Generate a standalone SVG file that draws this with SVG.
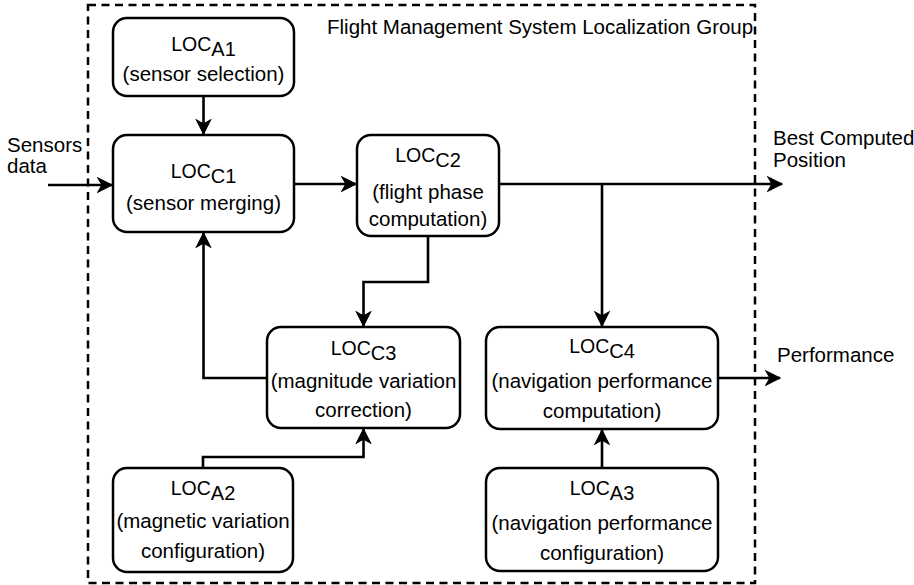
<svg xmlns="http://www.w3.org/2000/svg" width="914" height="585" viewBox="0 0 914 585">
  <style>
    .box { fill: #ffffff; stroke: #000000; stroke-width: 2.5; }
    .group { fill: none; stroke: #000000; stroke-width: 2.5; stroke-dasharray: 8 5.5; }
    .wire { fill: none; stroke: #000000; stroke-width: 2.6; }
    .arrow { marker-end: url(#head); }
    text { font-family: "Liberation Sans", Arial, Helvetica, sans-serif; font-size: 20.5px; fill: #000000; }
    .c { text-anchor: middle; }
    .loc { font-size: 19.5px; }
    .sub { font-size: 20px; }
  </style>
  <defs>
    <marker id="head" markerUnits="userSpaceOnUse" markerWidth="17" markerHeight="17" viewBox="-15 -8.5 17 17" refX="0" refY="0" orient="auto">
      <path d="M-14,-7 L0,0 L-14,7 L-10,0 Z" fill="#000000" stroke="#000000" stroke-width="1.2"/>
    </marker>
  </defs>

  <!-- group boundary -->
  <g id="fms-group">
    <rect class="group" x="88" y="5" width="667" height="578"/>
    <text x="327" y="34">Flight Management System Localization Group</text>
  </g>

  <!-- connectors -->
  <g id="connectors">
    <path class="wire arrow" d="M48,185 L112,185"/>
    <path class="wire arrow" d="M203.5,96 L203.5,134"/>
    <path class="wire arrow" d="M294,184 L356,184"/>
    <path class="wire arrow" d="M499,184 L782,184"/>
    <path class="wire arrow" d="M602,184 L602,326"/>
    <path class="wire arrow" d="M428,236 L428,282 L363.5,282 L363.5,326"/>
    <path class="wire arrow" d="M267,378 L203.5,378 L203.5,233"/>
    <path class="wire arrow" d="M203,468 L203,457 L363.5,457 L363.5,429"/>
    <path class="wire arrow" d="M602,468 L602,430"/>
    <path class="wire arrow" d="M718,378 L780,378"/>
  </g>

  <!-- external labels -->
  <g id="label-sensors">
    <text x="7" y="152">Sensors</text>
    <text x="7" y="173">data</text>
  </g>
  <g id="label-position">
    <text x="773" y="145">Best Computed</text>
    <text x="773" y="167">Position</text>
  </g>
  <g id="label-performance">
    <text x="777" y="362">Performance</text>
  </g>

  <!-- nodes -->
  <g id="loc-a1">
    <rect class="box" x="113" y="18" width="181" height="78" rx="14" ry="14"/>
    <text class="c" x="203.5" y="51"><tspan class="loc">LOC</tspan><tspan class="sub" dy="5">A1</tspan></text>
    <text class="c" x="203.5" y="81">(sensor selection)</text>
  </g>

  <g id="loc-c1">
    <rect class="box" x="113" y="135" width="181" height="97" rx="14" ry="14"/>
    <text class="c" x="203.5" y="178"><tspan class="loc">LOC</tspan><tspan class="sub" dy="5">C1</tspan></text>
    <text class="c" x="203.5" y="210">(sensor merging)</text>
  </g>

  <g id="loc-c2">
    <rect class="box" x="357" y="135" width="142" height="101" rx="14" ry="14"/>
    <text class="c" x="428" y="162"><tspan class="loc">LOC</tspan><tspan class="sub" dy="5">C2</tspan></text>
    <text class="c" x="428" y="199">(flight phase</text>
    <text class="c" x="428" y="226">computation)</text>
  </g>

  <g id="loc-c3">
    <rect class="box" x="267" y="327" width="193" height="101" rx="14" ry="14"/>
    <text class="c" x="363.5" y="355"><tspan class="loc">LOC</tspan><tspan class="sub" dy="5">C3</tspan></text>
    <text class="c" x="363.5" y="388">(magnitude variation</text>
    <text class="c" x="363.5" y="417">correction)</text>
  </g>

  <g id="loc-c4">
    <rect class="box" x="486" y="327" width="232" height="102" rx="14" ry="14"/>
    <text class="c" x="602" y="353"><tspan class="loc">LOC</tspan><tspan class="sub" dy="5">C4</tspan></text>
    <text class="c" x="602" y="388">(navigation performance</text>
    <text class="c" x="602" y="418">computation)</text>
  </g>

  <g id="loc-a2">
    <rect class="box" x="113" y="468" width="180" height="104" rx="14" ry="14"/>
    <text class="c" x="203" y="495"><tspan class="loc">LOC</tspan><tspan class="sub" dy="5">A2</tspan></text>
    <text class="c" x="203" y="528">(magnetic variation</text>
    <text class="c" x="203" y="558">configuration)</text>
  </g>

  <g id="loc-a3">
    <rect class="box" x="486" y="468" width="232" height="103" rx="14" ry="14"/>
    <text class="c" x="602" y="495"><tspan class="loc">LOC</tspan><tspan class="sub" dy="5">A3</tspan></text>
    <text class="c" x="602" y="530">(navigation performance</text>
    <text class="c" x="602" y="560">configuration)</text>
  </g>
</svg>
